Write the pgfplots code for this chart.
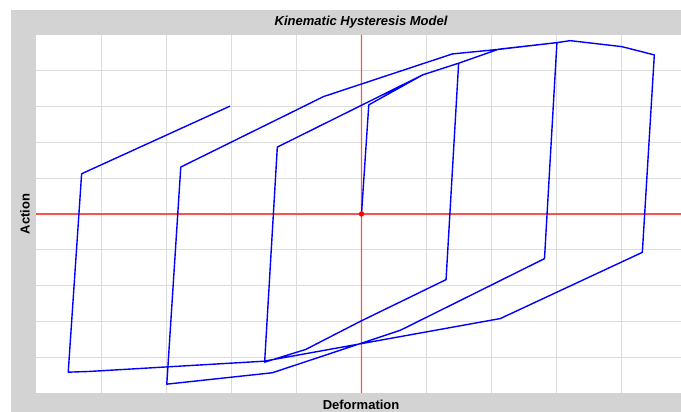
\documentclass[border=0pt]{standalone}
\usepackage{pgfplots}
\pgfplotsset{compat=1.18}
\usepackage{fontspec}
\setmainfont{Liberation Sans}
\definecolor{bggray}{RGB}{211,211,211}
\definecolor{gridgray}{RGB}{220,220,220}
\definecolor{axred}{RGB}{255,80,80}
\begin{document}
\begin{tikzpicture}
\path[use as bounding box] (-36pt,-19pt) rectangle (645pt,393pt);
\fill[bggray] (-25pt,-19pt) rectangle (645pt,383pt);
\begin{axis}[
  at={(0pt,0pt)}, anchor=south west,
  scale only axis, width=645pt, height=358pt,
  xmin=-5, xmax=4.908, ymin=-5, ymax=5,
  axis background/.style={fill=white},
  axis line style={draw=none},
  xtick={-4,-3,-2,-1,1,2,3,4},
  ytick={-4,-3,-2,-1,1,2,3,4},
  xticklabels={}, yticklabels={},
  major tick length=0pt,
  grid=major,
  major grid style={gridgray, line width=0.9pt},
  title={\fontsize{13}{15}\selectfont\bfseries\itshape Kinematic Hysteresis Model},
  title style={at={(axis description cs:0.504,1)}, anchor=center, yshift=7pt},
  xlabel={\fontsize{13}{15}\selectfont\bfseries Deformation},
  xlabel style={at={(axis description cs:0.504,0)}, anchor=center, yshift=-12pt},
  ylabel={\fontsize{13}{15}\selectfont\bfseries Action},
  ylabel style={at={(axis description cs:0,0.5)}, anchor=center, yshift=11pt},
  clip=false,
]
\addplot[axred, line width=1.2pt, forget plot] coordinates {(-0.0001,-5) (0.0001,5)};
\addplot[axred, line width=1.2pt, forget plot] coordinates {(-5,0) (4.908,0)};
\addplot[blue, line width=1.4pt, line join=round] coordinates {
(0,0)
(0.112,3.049)
(0.940,3.886)
(1.492,4.212)
(1.299,-1.833)
(-0.015,-2.996)
(-0.859,-3.785)
(-1.488,-4.139)
(-1.293,1.869)
(0.940,3.886)
(1.492,4.212)
(2.106,4.603)
(3.002,4.787)
(2.811,-1.247)
(0.598,-3.247)
(-1.370,-4.435)
(-2.991,-4.753)
(-2.776,1.311)
(-0.583,3.280)
(1.396,4.471)
(2.132,4.603)
(3.002,4.787)
(3.206,4.842)
(3.998,4.675)
(4.498,4.444)
(4.314,-1.071)
(2.132,-2.921)
(-1.498,-4.112)
(-4.187,-4.399)
(-4.505,-4.418)
(-4.299,1.124)
(-2.020,3.013)
};
\addplot[only marks, mark=*, mark size=2.4pt, red] coordinates {(0,0)};
\end{axis}
\end{tikzpicture}
\end{document}
